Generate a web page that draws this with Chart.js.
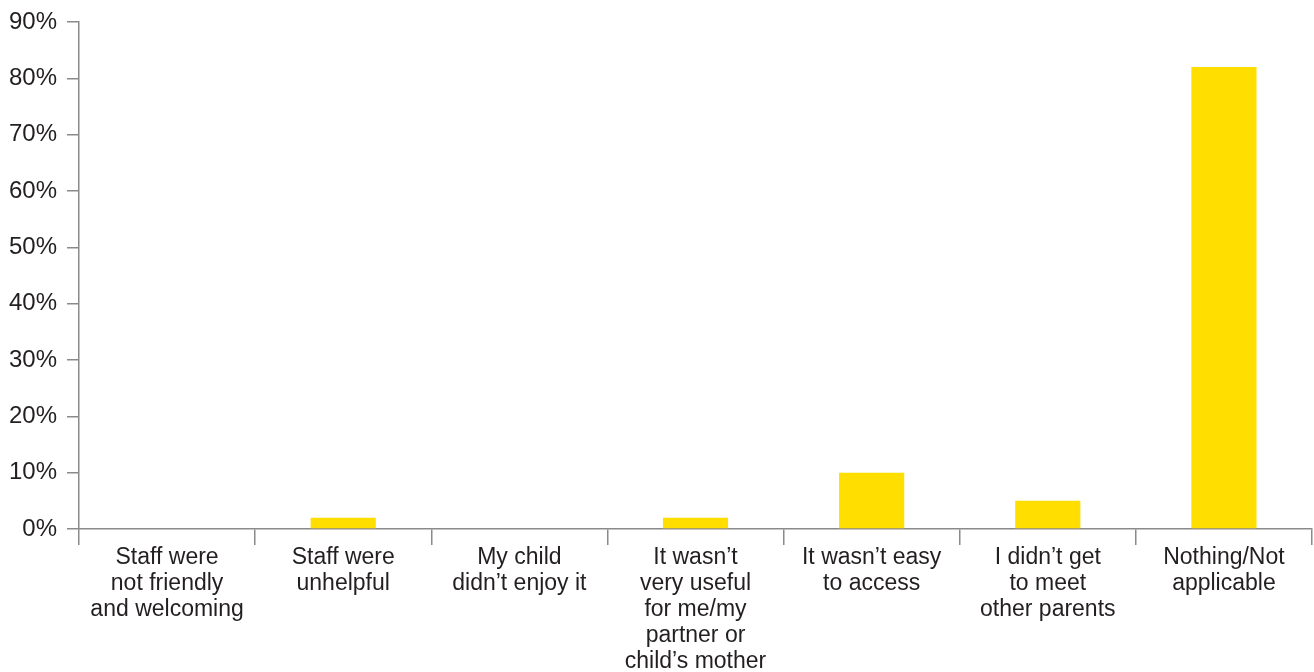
<!DOCTYPE html>
<html>
<head>
<meta charset="utf-8">
<script src="https://cdn.jsdelivr.net/npm/chart.js@4/dist/chart.umd.min.js"></script>
<style>
  html, body { margin: 0; padding: 0; background: #fff; }
  #wrap { width: 1314px; height: 672px; position: relative; }
</style>
</head>
<body>
<div id="wrap"><canvas id="chart"></canvas></div>
<script>
  const categories = [
    ["Staff were", "not friendly", "and welcoming"],
    ["Staff were", "unhelpful"],
    ["My child", "didn\u2019t enjoy it"],
    ["It wasn\u2019t", "very useful", "for me/my", "partner or", "child\u2019s mother"],
    ["It wasn\u2019t easy", "to access"],
    ["I didn\u2019t get", "to meet", "other parents"],
    ["Nothing/Not", "applicable"]
  ];
  const percents = [0, 2, 0, 2, 10, 5, 82];
  const yTicks = [0, 10, 20, 30, 40, 50, 60, 70, 80, 90];

  const axisGrey = "#8a8a8a";
  const textColor = "#231f20";
  const family = "'Liberation Sans', Arial, sans-serif";

  const ctx = document.getElementById("chart").getContext("2d");
  new Chart(ctx, {
    type: "bar",
    data: {
      labels: categories,
      datasets: [{
        data: percents,
        backgroundColor: "#ffde00",
        barPercentage: 0.74,
        categoryPercentage: 0.5
      }]
    },
    options: {
      responsive: true,
      maintainAspectRatio: false,
      animation: false,
      layout: { padding: { top: 22, right: 2, left: 0, bottom: 0 } },
      plugins: { legend: { display: false }, tooltip: { enabled: false } },
      scales: {
        x: {
          grid: { offset: true, drawOnChartArea: false, drawTicks: true, tickLength: 16, color: axisGrey, lineWidth: 1.5 },
          border: { color: axisGrey, width: 1.5 },
          ticks: { color: textColor, font: { family, size: 23, lineHeight: 26 / 23 }, maxRotation: 0, autoSkip: false, padding: 0 },
          afterFit: s => { s.height = 143; }
        },
        y: {
          min: 0,
          max: 90,
          afterBuildTicks: s => { s.ticks = yTicks.map(v => ({ value: v })); },
          grid: { drawOnChartArea: false, drawTicks: true, tickLength: 12, color: axisGrey, lineWidth: 1.5 },
          border: { color: axisGrey, width: 1.5 },
          ticks: { color: textColor, font: { family, size: 24, lineHeight: 1 }, padding: 10, callback: v => v + "%" },
          afterFit: s => { s.width = 79; }
        }
      }
    }
  });
</script>
</body>
</html>
